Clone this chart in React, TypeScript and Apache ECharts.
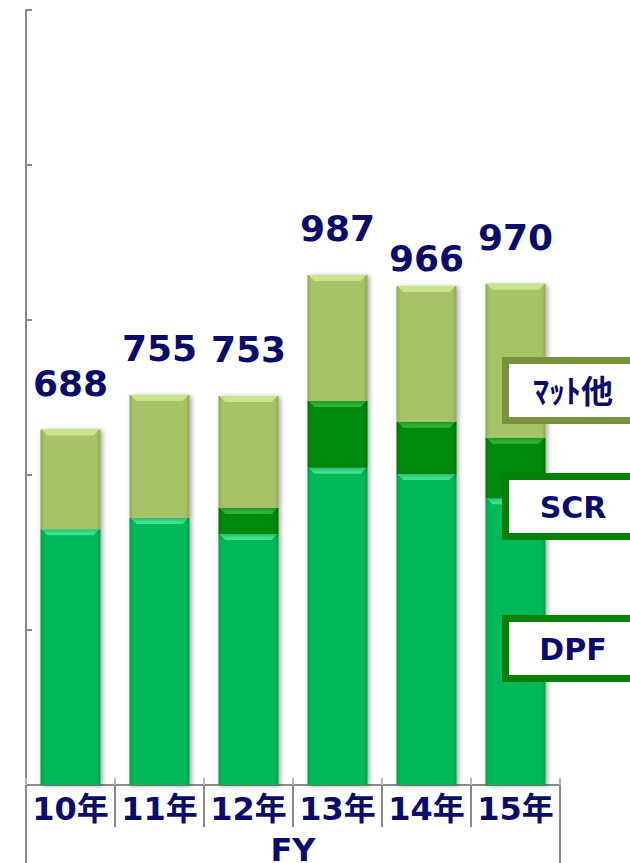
import React, { useEffect, useRef } from "react";
import * as echarts from "echarts";

const categories = ["10年", "11年", "12年", "13年", "14年", "15年"];
const totals = [688, 755, 753, 987, 966, 970];
const dpf = [495, 517, 486, 614, 602, 555];
const scr = [0, 0, 50, 129, 101, 117];
const matte = [193, 238, 217, 244, 263, 298];
const groupLabel = ["FY"];
const legendNames = ["ﾏｯﾄ他", "SCR", "DPF"];

const labelRaise = [46, 46, 46, 47, 27, 46];
const NAVY = "#0b0b6b";
const FONT = "'DejaVu Sans', 'Noto Sans CJK JP', sans-serif";
const AXIS = "#8a8a8a";

function makeRender(base: string, edge: string, bevel: string, withTotal: boolean) {
  return (params: any, api: any) => {
    const i = api.value(0);
    const lo = api.value(1);
    const hi = api.value(2);
    if (hi <= lo) return { type: "group", children: [] };
    const p0 = api.coord([i, lo]);
    const p1 = api.coord([i, hi]);
    const bw = api.size([1, 0])[0] * 0.675;
    const x = p0[0] - bw / 2;
    const y = p1[1];
    const h = p0[1] - p1[1];
    const children: any[] = [
      {
        type: "rect",
        shape: { x, y, width: bw, height: h },
        style: {
          fill: new echarts.graphic.LinearGradient(0, 0, 1, 0, [
            { offset: 0, color: edge },
            { offset: 0.07, color: base },
            { offset: 0.93, color: base },
            { offset: 1, color: edge },
          ]),
          shadowBlur: 5,
          shadowOffsetX: 2,
          shadowOffsetY: 1,
          shadowColor: "rgba(0,0,0,0.35)",
        },
      },
      {
        type: "polygon",
        shape: {
          points: [
            [x + 1, y],
            [x + bw - 1, y],
            [x + bw - 7, y + 6],
            [x + 7, y + 6],
          ],
        },
        style: { fill: bevel },
      },
    ];
    if (withTotal) {
      children.push({
        type: "text",
        x: p1[0],
        y: y - labelRaise[params.dataIndex],
        style: {
          text: String(totals[params.dataIndex]),
          align: "center",
          verticalAlign: "middle",
          fontSize: 36,
          fontWeight: "bold",
          fontFamily: FONT,
          fill: NAVY,
        },
      });
    }
    return { type: "group", children };
  };
}

export default function App() {
  const ref = useRef<HTMLDivElement>(null);
  useEffect(() => {
    if (!ref.current) return;
    const chart = echarts.init(ref.current, null, { renderer: "svg" });
    const dpfData = categories.map((_, i) => [i, 0, dpf[i]]);
    const scrData = categories.map((_, i) => [i, dpf[i], dpf[i] + scr[i]]);
    const matteData = categories.map((_, i) => [
      i,
      dpf[i] + scr[i],
      dpf[i] + scr[i] + matte[i],
    ]);

    const boxes = [
      { name: legendNames[0], y: 360.5, color: "#76923c", font: 32 },
      { name: legendNames[1], y: 476.5, color: "#078007", font: 30 },
      { name: legendNames[2], y: 618.5, color: "#078007", font: 30 },
    ];

    const graphics: any[] = [];
    boxes.forEach((b) => {
      graphics.push({
        type: "rect",
        z: 100,
        shape: { x: 505.5, y: b.y, width: 140, height: 60 },
        style: { fill: "#ffffff", stroke: b.color, lineWidth: 7 },
      });
      graphics.push({
        type: "text",
        z: 101,
        x: 573,
        y: b.y + 31,
        style: {
          text: b.name,
          align: "center",
          verticalAlign: "middle",
          fontSize: b.font,
          fontWeight: "bold",
          fontFamily: FONT,
          fill: NAVY,
        },
      });
    });

    chart.setOption({
      animation: false,
      grid: {
        left: 26,
        right: 70,
        top: 10,
        bottom: 78,
        containLabel: false,
        outerBoundsMode: "none",
      },
      xAxis: [
        {
          type: "category",
          data: categories,
          position: "bottom",
          axisLine: { show: true, lineStyle: { color: AXIS, width: 2 } },
          axisTick: { show: true, length: 42, lineStyle: { color: AXIS, width: 2 } },
          axisLabel: {
            show: true,
            margin: 8,
            fontSize: 32,
            lineHeight: 32,
            fontWeight: "bold",
            fontFamily: FONT,
            color: NAVY,
            interval: 0,
          },
          splitLine: { show: false },
        },
        {
          type: "category",
          data: groupLabel,
          position: "bottom",
          axisLine: { show: false },
          axisTick: { show: true, length: 80, lineStyle: { color: AXIS, width: 2 } },
          axisLabel: {
            show: true,
            margin: 49,
            fontSize: 32,
            lineHeight: 32,
            fontWeight: "bold",
            fontFamily: FONT,
            color: NAVY,
          },
          splitLine: { show: false },
        },
        {
          type: "category",
          data: categories,
          position: "bottom",
          axisLine: { show: false },
          axisTick: { show: true, inside: true, length: 7, lineStyle: { color: "#b8b8b8", width: 2 } },
          axisLabel: { show: false },
          splitLine: { show: false },
        },
      ],
      yAxis: {
        type: "value",
        min: 0,
        max: 1500,
        interval: 300,
        axisLine: { show: true, lineStyle: { color: AXIS, width: 2 } },
        axisTick: { show: true, inside: true, length: 6, lineStyle: { color: AXIS, width: 2 } },
        axisLabel: { show: false },
        splitLine: { show: false },
      },
      series: [
        {
          name: "DPF",
          type: "custom",
          xAxisIndex: 0,
          renderItem: makeRender("#05b958", "#04a24c", "#3ee892", false),
          encode: { x: 0, y: [1, 2] },
          data: dpfData,
        },
        {
          name: "SCR",
          type: "custom",
          xAxisIndex: 0,
          renderItem: makeRender("#058a08", "#047506", "#2bbb35", false),
          encode: { x: 0, y: [1, 2] },
          data: scrData,
        },
        {
          name: "ﾏｯﾄ他",
          type: "custom",
          xAxisIndex: 0,
          renderItem: makeRender("#a6c466", "#8fa955", "#cbe48a", true),
          encode: { x: 0, y: [1, 2] },
          data: matteData,
        },
      ],
      graphic: graphics,
    });
    return () => chart.dispose();
  }, []);
  return (
    <div
      ref={ref}
      style={{ position: "fixed", left: 0, top: 0, width: 630, height: 863, background: "#fff" }}
    />
  );
}
